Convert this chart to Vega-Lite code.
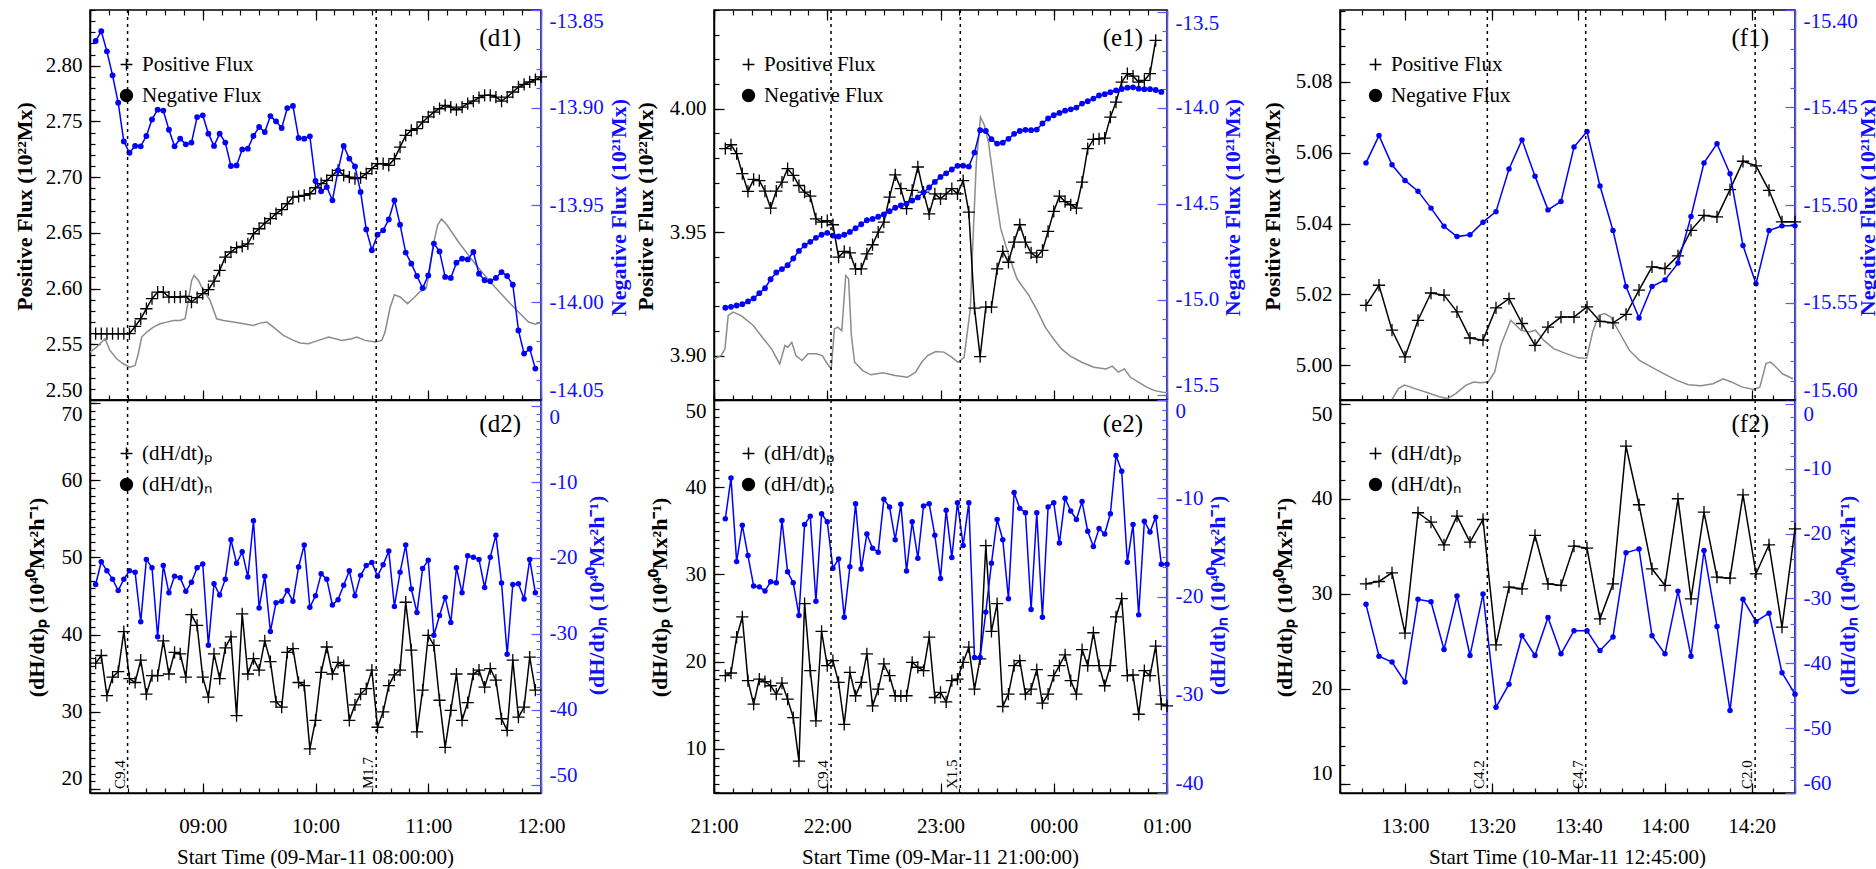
{
"$schema": "https://vega.github.io/schema/vega-lite/v6.json",
"padding": {"left": 12, "top": 8, "right": 0, "bottom": 0},
"background": "white",
"columns": 3,
"spacing": {"row": 0, "column": 173},
"bounds": "flush",
"align": "each",
"resolve": {"scale": {"shape": "independent"}, "legend": {"shape": "independent"}},
"config": {
  "locale": {"number": {"decimal": ".", "thousands": ",", "grouping": [3], "currency": ["$", ""], "minus": "-"}},
  "view": {"stroke": "black", "strokeWidth": 1.5},
  "font": "Liberation Serif",
  "axis": {"labelFont": "Liberation Serif", "titleFont": "Liberation Serif", "labelFontSize": 21, "titleFontSize": 22, "labelColor": "black", "titleColor": "black", "tickColor": "black", "domainColor": "black", "domainWidth": 1.5, "tickWidth": 1.2, "grid": false, "labelOverlap": false},
  "legend": {"labelFont": "Liberation Serif"},
  "title": {"font": "Liberation Serif"}
},
"datasets": {
"d1p": [{"t":3,"v":2.5595},{"t":6,"v":2.5595},{"t":9,"v":2.5595},{"t":12,"v":2.5595},{"t":15,"v":2.5595},{"t":18,"v":2.5595},{"t":21,"v":2.5595},{"t":24,"v":2.566},{"t":27,"v":2.5729},{"t":30,"v":2.5819},{"t":33,"v":2.5909},{"t":36,"v":2.5969},{"t":39,"v":2.5969},{"t":42,"v":2.5924},{"t":45,"v":2.5924},{"t":48,"v":2.5924},{"t":51,"v":2.593},{"t":54,"v":2.5879},{"t":57,"v":2.5918},{"t":60,"v":2.5954},{"t":63,"v":2.599},{"t":66,"v":2.6067},{"t":69,"v":2.6163},{"t":72,"v":2.6283},{"t":75,"v":2.6328},{"t":78,"v":2.6367},{"t":81,"v":2.6379},{"t":84,"v":2.6402},{"t":87,"v":2.6492},{"t":90,"v":2.6537},{"t":93,"v":2.6588},{"t":96,"v":2.6627},{"t":99,"v":2.6672},{"t":102,"v":2.6708},{"t":105,"v":2.6761},{"t":108,"v":2.6821},{"t":111,"v":2.6827},{"t":114,"v":2.6836},{"t":117,"v":2.6851},{"t":120,"v":2.6905},{"t":123,"v":2.6941},{"t":126,"v":2.6971},{"t":129,"v":2.7016},{"t":132,"v":2.7061},{"t":135,"v":2.7016},{"t":138,"v":2.7001},{"t":141,"v":2.6986},{"t":144,"v":2.6995},{"t":147,"v":2.7031},{"t":150,"v":2.7076},{"t":153,"v":2.7121},{"t":156,"v":2.7121},{"t":159,"v":2.7106},{"t":162,"v":2.7165},{"t":165,"v":2.727},{"t":168,"v":2.7375},{"t":171,"v":2.742},{"t":174,"v":2.7435},{"t":177,"v":2.7495},{"t":180,"v":2.754},{"t":183,"v":2.7584},{"t":186,"v":2.7614},{"t":189,"v":2.7644},{"t":192,"v":2.7629},{"t":195,"v":2.7605},{"t":198,"v":2.7629},{"t":201,"v":2.7659},{"t":204,"v":2.7683},{"t":207,"v":2.7713},{"t":210,"v":2.7734},{"t":213,"v":2.7734},{"t":216,"v":2.7719},{"t":219,"v":2.7683},{"t":222,"v":2.7719},{"t":225,"v":2.7764},{"t":228,"v":2.7809},{"t":231,"v":2.7833},{"t":234,"v":2.7854},{"t":237,"v":2.7875},{"t":240,"v":2.7899}],
"d1n": [{"t":3,"v":-13.8659},{"t":6,"v":-13.8609},{"t":9,"v":-13.8712},{"t":12,"v":-13.8835},{"t":15,"v":-13.8975},{"t":18,"v":-13.9174},{"t":21,"v":-13.9232},{"t":24,"v":-13.9197},{"t":27,"v":-13.9199},{"t":30,"v":-13.9146},{"t":33,"v":-13.9061},{"t":36,"v":-13.9011},{"t":39,"v":-13.9016},{"t":42,"v":-13.9114},{"t":45,"v":-13.9199},{"t":48,"v":-13.916},{"t":51,"v":-13.9189},{"t":54,"v":-13.918},{"t":57,"v":-13.9049},{"t":60,"v":-13.904},{"t":63,"v":-13.9134},{"t":66,"v":-13.9197},{"t":69,"v":-13.9134},{"t":72,"v":-13.918},{"t":75,"v":-13.93},{"t":78,"v":-13.9297},{"t":81,"v":-13.9215},{"t":84,"v":-13.9211},{"t":87,"v":-13.9146},{"t":90,"v":-13.91},{"t":93,"v":-13.9126},{"t":96,"v":-13.9044},{"t":99,"v":-13.9071},{"t":102,"v":-13.9105},{"t":105,"v":-13.9003},{"t":108,"v":-13.8992},{"t":111,"v":-13.9156},{"t":114,"v":-13.916},{"t":117,"v":-13.9148},{"t":120,"v":-13.9377},{"t":123,"v":-13.943},{"t":126,"v":-13.9408},{"t":129,"v":-13.9476},{"t":132,"v":-13.9322},{"t":135,"v":-13.9197},{"t":138,"v":-13.9262},{"t":141,"v":-13.9302},{"t":144,"v":-13.9433},{"t":147,"v":-13.9625},{"t":150,"v":-13.9732},{"t":153,"v":-13.9652},{"t":156,"v":-13.963},{"t":159,"v":-13.9574},{"t":162,"v":-13.9476},{"t":165,"v":-13.9601},{"t":168,"v":-13.9744},{"t":171,"v":-13.9801},{"t":174,"v":-13.9864},{"t":177,"v":-13.9926},{"t":180,"v":-13.9861},{"t":183,"v":-13.9698},{"t":186,"v":-13.9738},{"t":189,"v":-13.9869},{"t":192,"v":-13.9874},{"t":195,"v":-13.9796},{"t":198,"v":-13.9775},{"t":201,"v":-13.9779},{"t":204,"v":-13.9741},{"t":207,"v":-13.9852},{"t":210,"v":-13.9886},{"t":213,"v":-13.9891},{"t":216,"v":-13.9874},{"t":219,"v":-13.9844},{"t":222,"v":-13.9864},{"t":225,"v":-13.9909},{"t":228,"v":-14.0143},{"t":231,"v":-14.0262},{"t":234,"v":-14.0237},{"t":237,"v":-14.0339}],
"d1g": [{"t":0,"v":2.543},{"t":3.5,"v":2.5475},{"t":8,"v":2.555},{"t":10.6,"v":2.5445},{"t":14.2,"v":2.537},{"t":17.7,"v":2.5325},{"t":21.3,"v":2.5295},{"t":24,"v":2.531},{"t":25.7,"v":2.5415},{"t":27.5,"v":2.5565},{"t":30.2,"v":2.561},{"t":33.7,"v":2.5654},{"t":37.3,"v":2.5684},{"t":40.8,"v":2.5699},{"t":44.4,"v":2.5714},{"t":47.9,"v":2.5714},{"t":50.6,"v":2.5729},{"t":52.3,"v":2.5894},{"t":54.1,"v":2.6073},{"t":55.4,"v":2.6118},{"t":57.7,"v":2.6073},{"t":60.3,"v":2.5984},{"t":63.9,"v":2.5894},{"t":67.4,"v":2.5729},{"t":71,"v":2.5714},{"t":76.3,"v":2.5699},{"t":81.7,"v":2.5684},{"t":87,"v":2.5669},{"t":90.5,"v":2.569},{"t":94.1,"v":2.5699},{"t":97.6,"v":2.5654},{"t":102.9,"v":2.558},{"t":108.3,"v":2.5535},{"t":111.8,"v":2.5511},{"t":116.2,"v":2.5505},{"t":121.6,"v":2.5535},{"t":127,"v":2.5565},{"t":134,"v":2.5535},{"t":139.3,"v":2.555},{"t":142,"v":2.5565},{"t":146.4,"v":2.5535},{"t":151.8,"v":2.552},{"t":155.3,"v":2.5535},{"t":157,"v":2.561},{"t":159.7,"v":2.583},{"t":162,"v":2.5945},{"t":165,"v":2.5925},{"t":169,"v":2.5865},{"t":172.5,"v":2.592},{"t":175.5,"v":2.597},{"t":178.8,"v":2.6},{"t":180.5,"v":2.613},{"t":182.5,"v":2.638},{"t":185,"v":2.657},{"t":187,"v":2.6625},{"t":190,"v":2.657},{"t":196,"v":2.642},{"t":205,"v":2.622},{"t":214,"v":2.604},{"t":222.8,"v":2.588},{"t":228,"v":2.579},{"t":233.4,"v":2.57},{"t":237,"v":2.568},{"t":240,"v":2.5695}],
"d2p": [{"t":3,"v":36.3},{"t":6,"v":37.3},{"t":9,"v":32.1},{"t":12,"v":34.5},{"t":15,"v":35.2},{"t":18,"v":40.4},{"t":21,"v":34.3},{"t":24,"v":33.8},{"t":27,"v":36.7},{"t":30,"v":32.3},{"t":33,"v":34.7},{"t":36,"v":34.7},{"t":39,"v":39.2},{"t":42,"v":34.9},{"t":45,"v":37.7},{"t":48,"v":37.5},{"t":51,"v":34.5},{"t":54,"v":42.6},{"t":57,"v":41.2},{"t":60,"v":34.5},{"t":63,"v":31.9},{"t":66,"v":37.5},{"t":69,"v":34.3},{"t":72,"v":38.3},{"t":75,"v":39.7},{"t":78,"v":29.5},{"t":81,"v":42.7},{"t":84,"v":34.9},{"t":87,"v":36.9},{"t":90,"v":35.4},{"t":93,"v":39.2},{"t":96,"v":36.5},{"t":99,"v":31.3},{"t":102,"v":30.6},{"t":105,"v":37.7},{"t":108,"v":38.2},{"t":111,"v":33.8},{"t":114,"v":33.4},{"t":117,"v":25.2},{"t":120,"v":28.9},{"t":123,"v":35.1},{"t":126,"v":38.4},{"t":129,"v":34.9},{"t":132,"v":36.4},{"t":135,"v":36.0},{"t":138,"v":28.9},{"t":141,"v":30.9},{"t":144,"v":32.3},{"t":147,"v":33.0},{"t":150,"v":35.4},{"t":153,"v":28.0},{"t":156,"v":30.0},{"t":159,"v":33.4},{"t":162,"v":34.8},{"t":165,"v":35.4},{"t":168,"v":44.2},{"t":171,"v":38.0},{"t":174,"v":27.4},{"t":177,"v":32.8},{"t":180,"v":39.9},{"t":183,"v":38.6},{"t":186,"v":31.5},{"t":189,"v":25.4},{"t":192,"v":30.2},{"t":195,"v":34.9},{"t":198,"v":28.9},{"t":201,"v":31.2},{"t":204,"v":34.9},{"t":207,"v":35.4},{"t":210,"v":33.2},{"t":213,"v":35.6},{"t":216,"v":34.1},{"t":219,"v":29.1},{"t":222,"v":27.6},{"t":225,"v":36.7},{"t":228,"v":29.3},{"t":231,"v":30.6},{"t":234,"v":37.1},{"t":237,"v":32.8}],
"d2n": [{"t":3,"v":-23.5},{"t":6,"v":-20.5},{"t":9,"v":-21.7},{"t":12,"v":-22.8},{"t":15,"v":-24.3},{"t":18,"v":-22.8},{"t":21,"v":-21.7},{"t":24,"v":-21.9},{"t":27,"v":-28.4},{"t":30,"v":-20.2},{"t":33,"v":-21.3},{"t":36,"v":-30.4},{"t":39,"v":-21.0},{"t":42,"v":-24.6},{"t":45,"v":-22.4},{"t":48,"v":-22.6},{"t":51,"v":-24.4},{"t":54,"v":-23.2},{"t":57,"v":-21.3},{"t":60,"v":-20.8},{"t":63,"v":-31.5},{"t":66,"v":-23.4},{"t":69,"v":-24.9},{"t":72,"v":-22.8},{"t":75,"v":-17.6},{"t":78,"v":-20.7},{"t":81,"v":-19.2},{"t":84,"v":-22.5},{"t":87,"v":-15.1},{"t":90,"v":-26.6},{"t":93,"v":-22.4},{"t":96,"v":-29.7},{"t":99,"v":-25.9},{"t":102,"v":-25.7},{"t":105,"v":-24.3},{"t":108,"v":-25.7},{"t":111,"v":-21.2},{"t":114,"v":-18.3},{"t":117,"v":-26.5},{"t":120,"v":-25.0},{"t":123,"v":-22.1},{"t":126,"v":-22.8},{"t":129,"v":-26.2},{"t":132,"v":-25.5},{"t":135,"v":-23.6},{"t":138,"v":-21.7},{"t":141,"v":-25.0},{"t":144,"v":-22.3},{"t":147,"v":-21.0},{"t":150,"v":-20.6},{"t":153,"v":-22.4},{"t":156,"v":-20.9},{"t":159,"v":-19.1},{"t":162,"v":-26.4},{"t":165,"v":-21.9},{"t":168,"v":-18.3},{"t":171,"v":-24.1},{"t":174,"v":-27.2},{"t":177,"v":-21.4},{"t":180,"v":-20.3},{"t":183,"v":-30.2},{"t":186,"v":-27.6},{"t":189,"v":-25.2},{"t":192,"v":-28.5},{"t":195,"v":-21.3},{"t":198,"v":-24.6},{"t":201,"v":-19.7},{"t":204,"v":-19.9},{"t":207,"v":-20.2},{"t":210,"v":-23.9},{"t":213,"v":-19.9},{"t":216,"v":-17.0},{"t":219,"v":-23.3},{"t":222,"v":-32.7},{"t":225,"v":-23.5},{"t":228,"v":-23.4},{"t":231,"v":-25.4},{"t":234,"v":-20.2},{"t":237,"v":-24.6}],
"dfl": [{"t":20,"label":"C9.4"},{"t":152.3,"label":"M1.7"}],
"e1p": [{"t":6,"v":3.9838},{"t":9,"v":3.9854},{"t":12,"v":3.9818},{"t":15,"v":3.9737},{"t":18,"v":3.9665},{"t":21,"v":3.9714},{"t":24,"v":3.9709},{"t":27,"v":3.9666},{"t":30,"v":3.9597},{"t":33,"v":3.9666},{"t":36,"v":3.9703},{"t":39,"v":3.9757},{"t":42,"v":3.973},{"t":45,"v":3.9689},{"t":48,"v":3.9662},{"t":51,"v":3.9646},{"t":54,"v":3.9554},{"t":57,"v":3.9541},{"t":60,"v":3.9547},{"t":63,"v":3.953},{"t":66,"v":3.9399},{"t":69,"v":3.9422},{"t":72,"v":3.9416},{"t":75,"v":3.9351},{"t":78,"v":3.9351},{"t":81,"v":3.9412},{"t":84,"v":3.9449},{"t":87,"v":3.95},{"t":90,"v":3.9541},{"t":93,"v":3.9642},{"t":96,"v":3.9732},{"t":99,"v":3.9676},{"t":102,"v":3.9595},{"t":105,"v":3.9669},{"t":108,"v":3.9764},{"t":111,"v":3.9662},{"t":114,"v":3.9574},{"t":117,"v":3.9655},{"t":120,"v":3.9635},{"t":123,"v":3.9655},{"t":126,"v":3.9676},{"t":129,"v":3.9655},{"t":132,"v":3.9709},{"t":135,"v":3.9581},{"t":138,"v":3.9192},{"t":141,"v":3.8996},{"t":144,"v":3.9196},{"t":147,"v":3.9196},{"t":150,"v":3.9351},{"t":153,"v":3.9422},{"t":156,"v":3.9378},{"t":159,"v":3.946},{"t":162,"v":3.953},{"t":165,"v":3.946},{"t":168,"v":3.9416},{"t":171,"v":3.9399},{"t":174,"v":3.9426},{"t":177,"v":3.9503},{"t":180,"v":3.9584},{"t":183,"v":3.9646},{"t":186,"v":3.9624},{"t":189,"v":3.9611},{"t":192,"v":3.9597},{"t":195,"v":3.9703},{"t":198,"v":3.9838},{"t":201,"v":3.9876},{"t":204,"v":3.9878},{"t":207,"v":3.9881},{"t":210,"v":3.9966},{"t":213,"v":4.0027},{"t":216,"v":4.0108},{"t":219,"v":4.0142},{"t":222,"v":4.0132},{"t":225,"v":4.0108},{"t":228,"v":4.0115},{"t":231,"v":4.0142},{"t":234,"v":4.0277}],
"e1n": [{"t":6,"v":-15.043},{"t":9,"v":-15.038},{"t":12,"v":-15.031},{"t":15,"v":-15.024},{"t":18,"v":-15.01},{"t":21,"v":-14.994},{"t":24,"v":-14.967},{"t":27,"v":-14.941},{"t":30,"v":-14.894},{"t":33,"v":-14.859},{"t":36,"v":-14.841},{"t":39,"v":-14.821},{"t":42,"v":-14.786},{"t":45,"v":-14.746},{"t":48,"v":-14.718},{"t":51,"v":-14.699},{"t":54,"v":-14.678},{"t":57,"v":-14.662},{"t":60,"v":-14.652},{"t":63,"v":-14.666},{"t":66,"v":-14.671},{"t":69,"v":-14.662},{"t":72,"v":-14.647},{"t":75,"v":-14.628},{"t":78,"v":-14.607},{"t":81,"v":-14.586},{"t":84,"v":-14.579},{"t":87,"v":-14.568},{"t":90,"v":-14.556},{"t":93,"v":-14.539},{"t":96,"v":-14.521},{"t":99,"v":-14.509},{"t":102,"v":-14.499},{"t":105,"v":-14.483},{"t":108,"v":-14.467},{"t":111,"v":-14.441},{"t":114,"v":-14.415},{"t":117,"v":-14.386},{"t":120,"v":-14.36},{"t":123,"v":-14.341},{"t":126,"v":-14.321},{"t":129,"v":-14.302},{"t":132,"v":-14.301},{"t":135,"v":-14.306},{"t":138,"v":-14.233},{"t":141,"v":-14.116},{"t":144,"v":-14.12},{"t":147,"v":-14.163},{"t":150,"v":-14.186},{"t":153,"v":-14.181},{"t":156,"v":-14.161},{"t":159,"v":-14.135},{"t":162,"v":-14.12},{"t":165,"v":-14.114},{"t":168,"v":-14.116},{"t":171,"v":-14.113},{"t":174,"v":-14.081},{"t":177,"v":-14.055},{"t":180,"v":-14.038},{"t":183,"v":-14.026},{"t":186,"v":-14.014},{"t":189,"v":-14.007},{"t":192,"v":-13.998},{"t":195,"v":-13.977},{"t":198,"v":-13.965},{"t":201,"v":-13.951},{"t":204,"v":-13.935},{"t":207,"v":-13.928},{"t":210,"v":-13.918},{"t":213,"v":-13.908},{"t":216,"v":-13.901},{"t":219,"v":-13.894},{"t":222,"v":-13.892},{"t":225,"v":-13.899},{"t":228,"v":-13.902},{"t":231,"v":-13.902},{"t":234,"v":-13.906},{"t":237,"v":-13.916}],
"e1g": [{"t":0,"v":3.8987},{"t":3.7,"v":3.9},{"t":5.8,"v":3.9027},{"t":7.5,"v":3.9162},{"t":10.1,"v":3.9176},{"t":14.4,"v":3.9162},{"t":20.8,"v":3.9122},{"t":26.2,"v":3.9068},{"t":30.5,"v":3.9027},{"t":34.8,"v":3.8966},{"t":37.6,"v":3.9041},{"t":39.1,"v":3.9034},{"t":41.2,"v":3.9054},{"t":43.4,"v":3.9},{"t":46.6,"v":3.898},{"t":49.8,"v":3.9007},{"t":54.1,"v":3.9007},{"t":57.4,"v":3.9},{"t":59.5,"v":3.8973},{"t":62.1,"v":3.8946},{"t":63.8,"v":3.9108},{"t":65.5,"v":3.9115},{"t":67.7,"v":3.9101},{"t":69.8,"v":3.9324},{"t":71.3,"v":3.9311},{"t":72.8,"v":3.9081},{"t":74.5,"v":3.8973},{"t":78.8,"v":3.8939},{"t":83.1,"v":3.8922},{"t":89.6,"v":3.893},{"t":96,"v":3.8919},{"t":102.5,"v":3.8912},{"t":106.8,"v":3.8933},{"t":110,"v":3.8973},{"t":113.2,"v":3.9},{"t":117.5,"v":3.9016},{"t":121.8,"v":3.9014},{"t":126.1,"v":3.8993},{"t":129.3,"v":3.8973},{"t":132.5,"v":3.8993},{"t":135.8,"v":3.9189},{"t":137.3,"v":3.9487},{"t":139,"v":3.9784},{"t":141.2,"v":3.9966},{"t":143.3,"v":3.9932},{"t":145.4,"v":3.9865},{"t":148.7,"v":3.9676},{"t":151.9,"v":3.9514},{"t":156.2,"v":3.9405},{"t":160.5,"v":3.9311},{"t":166.9,"v":3.9243},{"t":171.2,"v":3.9183},{"t":175.5,"v":3.9115},{"t":179.8,"v":3.9068},{"t":184.1,"v":3.9027},{"t":188.4,"v":3.9},{"t":194.8,"v":3.8973},{"t":201.3,"v":3.8953},{"t":207.7,"v":3.8946},{"t":211,"v":3.8957},{"t":214.2,"v":3.8933},{"t":217.4,"v":3.8946},{"t":220.6,"v":3.8912},{"t":224.9,"v":3.8892},{"t":229.2,"v":3.8872},{"t":233.5,"v":3.8858},{"t":237.8,"v":3.8851},{"t":240,"v":3.885}],
"e2p": [{"t":6,"v":18.38},{"t":9,"v":18.69},{"t":12,"v":22.81},{"t":15,"v":25.12},{"t":18,"v":17.81},{"t":21,"v":15.12},{"t":24,"v":18.0},{"t":27,"v":17.69},{"t":30,"v":17.23},{"t":33,"v":16.27},{"t":36,"v":17.54},{"t":39,"v":15.69},{"t":42,"v":13.58},{"t":45,"v":8.58},{"t":48,"v":26.65},{"t":51,"v":18.96},{"t":54,"v":13.19},{"t":57,"v":23.46},{"t":60,"v":19.54},{"t":63,"v":20.12},{"t":66,"v":17.62},{"t":69,"v":12.81},{"t":72,"v":18.77},{"t":75,"v":16.08},{"t":78,"v":17.62},{"t":81,"v":20.88},{"t":84,"v":14.92},{"t":87,"v":16.85},{"t":90,"v":19.73},{"t":93,"v":18.38},{"t":96,"v":16.08},{"t":99,"v":16.08},{"t":102,"v":16.08},{"t":105,"v":19.92},{"t":108,"v":19.35},{"t":111,"v":18.96},{"t":114,"v":22.81},{"t":117,"v":15.88},{"t":120,"v":16.46},{"t":123,"v":15.38},{"t":126,"v":17.81},{"t":129,"v":18.0},{"t":132,"v":19.92},{"t":135,"v":21.65},{"t":138,"v":16.85},{"t":141,"v":20.31},{"t":144,"v":33.31},{"t":147,"v":23.46},{"t":150,"v":26.65},{"t":153,"v":14.85},{"t":156,"v":16.27},{"t":159,"v":19.54},{"t":162,"v":20.12},{"t":165,"v":16.27},{"t":168,"v":16.85},{"t":171,"v":19.08},{"t":174,"v":15.23},{"t":177,"v":16.27},{"t":180,"v":18.38},{"t":183,"v":19.54},{"t":186,"v":20.77},{"t":189,"v":17.81},{"t":192,"v":16.27},{"t":195,"v":21.38},{"t":198,"v":19.54},{"t":201,"v":23.31},{"t":204,"v":19.54},{"t":207,"v":17.23},{"t":210,"v":19.54},{"t":213,"v":25.12},{"t":216,"v":27.23},{"t":219,"v":18.38},{"t":222,"v":18.46},{"t":225,"v":13.96},{"t":228,"v":18.96},{"t":231,"v":18.38},{"t":234,"v":21.77},{"t":237,"v":15.12},{"t":240,"v":14.92}],
"e2n": [{"t":6,"v":-12.09},{"t":9,"v":-7.94},{"t":12,"v":-16.45},{"t":15,"v":-12.74},{"t":18,"v":-15.83},{"t":21,"v":-18.92},{"t":24,"v":-19.02},{"t":27,"v":-19.43},{"t":30,"v":-18.5},{"t":33,"v":-18.61},{"t":36,"v":-12.26},{"t":39,"v":-17.48},{"t":42,"v":-18.61},{"t":45,"v":-21.93},{"t":48,"v":-12.67},{"t":51,"v":-11.82},{"t":54,"v":-20.49},{"t":57,"v":-11.58},{"t":60,"v":-12.4},{"t":63,"v":-17.13},{"t":66,"v":-16.17},{"t":69,"v":-22.11},{"t":72,"v":-16.96},{"t":75,"v":-10.55},{"t":78,"v":-17.2},{"t":81,"v":-13.64},{"t":84,"v":-15.08},{"t":87,"v":-15.49},{"t":90,"v":-10.1},{"t":93,"v":-10.89},{"t":96,"v":-14.22},{"t":99,"v":-10.62},{"t":102,"v":-17.41},{"t":105,"v":-12.4},{"t":108,"v":-16.1},{"t":111,"v":-10.79},{"t":114,"v":-10.55},{"t":117,"v":-13.77},{"t":120,"v":-18.16},{"t":123,"v":-11.23},{"t":126,"v":-16.04},{"t":129,"v":-10.45},{"t":132,"v":-14.8},{"t":135,"v":-10.45},{"t":138,"v":-26.22},{"t":141,"v":-26.22},{"t":144,"v":-21.59},{"t":147,"v":-16.62},{"t":150,"v":-12.16},{"t":153,"v":-14.22},{"t":156,"v":-20.22},{"t":159,"v":-9.42},{"t":162,"v":-11.03},{"t":165,"v":-11.47},{"t":168,"v":-21.32},{"t":171,"v":-11.47},{"t":174,"v":-22.11},{"t":177,"v":-10.89},{"t":180,"v":-10.45},{"t":183,"v":-14.56},{"t":186,"v":-10.0},{"t":189,"v":-11.3},{"t":192,"v":-12.16},{"t":195,"v":-10.34},{"t":198,"v":-13.36},{"t":201,"v":-14.9},{"t":204,"v":-13.09},{"t":207,"v":-13.64},{"t":210,"v":-11.58},{"t":213,"v":-5.64},{"t":216,"v":-7.26},{"t":219,"v":-16.52},{"t":222,"v":-12.67},{"t":225,"v":-21.87},{"t":228,"v":-12.33},{"t":231,"v":-13.43},{"t":234,"v":-11.92},{"t":237,"v":-16.72},{"t":240,"v":-16.72}],
"efl": [{"t":62,"label":"C9.4"},{"t":130.5,"label":"X1.5"}],
"f1p": [{"t":6,"v":5.0169},{"t":9,"v":5.0226},{"t":12,"v":5.0099},{"t":15,"v":5.0024},{"t":18,"v":5.0127},{"t":21,"v":5.0204},{"t":24,"v":5.0198},{"t":27,"v":5.0151},{"t":30,"v":5.0077},{"t":33,"v":5.0071},{"t":36,"v":5.0162},{"t":39,"v":5.0188},{"t":42,"v":5.0118},{"t":45,"v":5.0056},{"t":48,"v":5.0108},{"t":51,"v":5.0136},{"t":54,"v":5.0136},{"t":57,"v":5.0165},{"t":60,"v":5.0124},{"t":63,"v":5.012},{"t":66,"v":5.0144},{"t":69,"v":5.0212},{"t":72,"v":5.0278},{"t":75,"v":5.0273},{"t":78,"v":5.0309},{"t":81,"v":5.0381},{"t":84,"v":5.0423},{"t":87,"v":5.0419},{"t":90,"v":5.0496},{"t":93,"v":5.0576},{"t":96,"v":5.0563},{"t":99,"v":5.0494},{"t":102,"v":5.0405},{"t":105,"v":5.0405}],
"f1n": [{"t":6,"v":-15.4784},{"t":9,"v":-15.4644},{"t":12,"v":-15.4794},{"t":15,"v":-15.4874},{"t":18,"v":-15.4929},{"t":21,"v":-15.5016},{"t":24,"v":-15.5109},{"t":27,"v":-15.5162},{"t":30,"v":-15.5153},{"t":33,"v":-15.5088},{"t":36,"v":-15.5034},{"t":39,"v":-15.4815},{"t":42,"v":-15.4666},{"t":45,"v":-15.4852},{"t":48,"v":-15.5025},{"t":51,"v":-15.4982},{"t":54,"v":-15.4703},{"t":57,"v":-15.4623},{"t":60,"v":-15.4903},{"t":63,"v":-15.5131},{"t":66,"v":-15.5418},{"t":69,"v":-15.5579},{"t":72,"v":-15.5418},{"t":75,"v":-15.5384},{"t":78,"v":-15.5298},{"t":81,"v":-15.5059},{"t":84,"v":-15.4784},{"t":87,"v":-15.4686},{"t":90,"v":-15.484},{"t":93,"v":-15.5208},{"t":96,"v":-15.5404},{"t":99,"v":-15.5131},{"t":102,"v":-15.5107},{"t":105,"v":-15.5107}],
"f1g": [{"t":10.5,"v":4.985},{"t":11.6,"v":4.9896},{"t":13.5,"v":4.9934},{"t":14.9,"v":4.9944},{"t":17.3,"v":4.9934},{"t":20.1,"v":4.9923},{"t":22.9,"v":4.9911},{"t":24.8,"v":4.9906},{"t":26.7,"v":4.992},{"t":29.1,"v":4.9944},{"t":30.9,"v":4.9953},{"t":32.4,"v":4.9951},{"t":34.2,"v":4.9953},{"t":35.7,"v":4.9981},{"t":37.1,"v":5.0056},{"t":39.4,"v":5.0127},{"t":41.8,"v":5.0099},{"t":43.7,"v":5.0094},{"t":45.1,"v":5.0099},{"t":47,"v":5.0071},{"t":49.3,"v":5.0047},{"t":52.2,"v":5.0033},{"t":55,"v":5.0021},{"t":56.9,"v":5.0019},{"t":58.3,"v":5.0094},{"t":59.7,"v":5.0141},{"t":61.1,"v":5.0146},{"t":62.5,"v":5.0136},{"t":64.4,"v":5.0094},{"t":66.8,"v":5.0042},{"t":69.1,"v":5.0014},{"t":71.9,"v":4.9995},{"t":74.8,"v":4.9976},{"t":77.6,"v":4.9958},{"t":80.4,"v":4.9945},{"t":83.3,"v":4.9942},{"t":86.1,"v":4.9948},{"t":88.4,"v":4.9962},{"t":90.3,"v":4.9953},{"t":92.7,"v":4.9939},{"t":95.5,"v":4.9932},{"t":96.9,"v":4.9939},{"t":98.3,"v":5.0005},{"t":99.3,"v":5.0009},{"t":100.2,"v":5.0},{"t":102.1,"v":4.9976},{"t":104.5,"v":4.9962}],
"f2p": [{"t":6,"v":31.05},{"t":9,"v":31.3},{"t":12,"v":32.21},{"t":15,"v":25.86},{"t":18,"v":38.53},{"t":21,"v":37.54},{"t":24,"v":35.16},{"t":27,"v":38.18},{"t":30,"v":35.44},{"t":33,"v":37.82},{"t":36,"v":24.63},{"t":39,"v":30.7},{"t":42,"v":30.53},{"t":45,"v":36.14},{"t":48,"v":31.05},{"t":51,"v":30.88},{"t":54,"v":35.02},{"t":57,"v":34.81},{"t":60,"v":27.37},{"t":63,"v":31.05},{"t":66,"v":45.54},{"t":69,"v":39.37},{"t":72,"v":32.63},{"t":75,"v":30.88},{"t":78,"v":40.0},{"t":81,"v":29.47},{"t":84,"v":38.6},{"t":87,"v":31.75},{"t":90,"v":31.65},{"t":93,"v":40.42},{"t":96,"v":32.11},{"t":99,"v":35.16},{"t":102,"v":26.49},{"t":105,"v":36.84}],
"f2n": [{"t":6,"v":-30.92},{"t":9,"v":-38.91},{"t":12,"v":-39.82},{"t":15,"v":-42.88},{"t":18,"v":-30.15},{"t":21,"v":-30.51},{"t":24,"v":-37.89},{"t":27,"v":-29.64},{"t":30,"v":-38.8},{"t":33,"v":-29.34},{"t":36,"v":-46.79},{"t":39,"v":-43.23},{"t":42,"v":-35.75},{"t":45,"v":-38.8},{"t":48,"v":-32.95},{"t":51,"v":-38.55},{"t":54,"v":-34.99},{"t":57,"v":-34.99},{"t":60,"v":-38.04},{"t":63,"v":-35.95},{"t":66,"v":-22.98},{"t":69,"v":-22.37},{"t":72,"v":-35.75},{"t":75,"v":-38.55},{"t":78,"v":-28.88},{"t":81,"v":-38.91},{"t":84,"v":-22.62},{"t":87,"v":-34.33},{"t":90,"v":-47.3},{"t":93,"v":-30.15},{"t":96,"v":-33.56},{"t":99,"v":-32.29},{"t":102,"v":-41.45},{"t":105,"v":-44.76}],
"ffl": [{"t":34,"label":"C4.2"},{"t":56.7,"label":"C4.7"},{"t":95.8,"label":"C2.0"}]
},
"concat": [
 {"width": 451, "height": 390,
  "title": {"text": "(d1)", "orient": "top", "anchor": "end", "frame": "group", "offset": -42, "dx": -20, "fontSize": 25, "fontWeight": "normal", "color": "black"},
  "resolve": {"scale": {"x": "independent", "y": "independent"}, "axis": {"x": "independent", "y": "independent"}},
  "layer": [
   {"data": {"name": "d1g"}, "mark": {"type": "line", "color": "#8c8c8c", "strokeWidth": 1.5, "clip": true},
    "encoding": {"x": {"field": "t", "type": "quantitative", "scale": {"domain": [0, 240], "nice": false, "zero": false}, "axis": {"orient": "top", "values": [0, 60, 120, 180, 240], "labels": false, "domain": false, "tickSize": -10, "title": null}},
                 "y": {"field": "v", "type": "quantitative", "scale": {"domain": [2.5, 2.85], "nice": false, "zero": false}, "axis": {"orient": "left", "tickCount": 35, "labels": false, "domain": false, "tickSize": -5, "title": null}}}},
   {"data": {"name": "d1p"}, "mark": {"type": "line", "color": "black", "strokeWidth": 1.5},
    "encoding": {"x": {"field": "t", "type": "quantitative", "scale": {"domain": [0, 240], "nice": false, "zero": false}, "axis": {"orient": "bottom", "values": [0, 60, 120, 180, 240], "labels": false, "tickSize": -10, "title": null}},
                 "y": {"field": "v", "type": "quantitative", "scale": {"domain": [2.5, 2.85], "nice": false, "zero": false}, "axis": {"orient": "left", "values": [2.5, 2.55, 2.6, 2.65, 2.7, 2.75, 2.8], "format": ".2f", "tickSize": -10, "labelPadding": 18, "labelFlush": 12, "title": "Positive Flux (10²²Mx)", "titleX": -66, "titleY": 196, "titleAngle": 270, "titleFontWeight": "bold", "titleBaseline": "middle", "titleAlign": "center"}}}},
   {"data": {"name": "d1p"}, "mark": {"type": "point", "filled": true, "color": "black", "stroke": "black", "strokeWidth": 1.3, "size": 150, "opacity": 1},
    "encoding": {"x": {"field": "t", "type": "quantitative", "scale": {"domain": [0, 240], "nice": false, "zero": false}, "axis": {"orient": "bottom", "tickCount": 24, "labels": false, "domain": false, "tickSize": -5, "title": null}},
                 "y": {"field": "v", "type": "quantitative", "scale": {"domain": [2.5, 2.85], "nice": false, "zero": false}, "axis": null},
                 "shape": {"datum": "Positive Flux", "type": "nominal", "scale": {"domain": ["Positive Flux", "Negative Flux"], "range": ["M-1,0H1M0,-1V1", "circle"]}, "legend": {"orient": "none", "legendX": 26, "legendY": 44, "title": null, "symbolSize": 140, "symbolStrokeWidth": 1.5, "labelFontSize": 21, "labelColor": "black", "labelOffset": 5, "rowPadding": 9, "padding": 0}}}},
   {"data": {"name": "d1n"}, "mark": {"type": "line", "color": "#0000ff", "strokeWidth": 1.5},
    "encoding": {"x": {"field": "t", "type": "quantitative", "scale": {"domain": [0, 240], "nice": false, "zero": false}, "axis": {"orient": "top", "tickCount": 24, "labels": false, "domain": false, "tickSize": -5, "title": null}},
                 "y": {"field": "v", "type": "quantitative", "scale": {"domain": [-14.05, -13.85], "nice": false, "zero": false}, "axis": {"orient": "right", "values": [-14.05, -14, -13.95, -13.9, -13.85], "format": ".2f", "tickSize": -10, "labelPadding": 18, "labelFlush": 12, "labelColor": "#1010ff", "domainColor": "#5a5aff", "tickColor": "#5a5aff", "title": "Negative Flux (10²¹Mx)", "titleColor": "#1010ff", "titleX": 77, "titleY": 197, "titleAngle": 270, "titleFontWeight": "bold", "titleBaseline": "middle", "titleAlign": "center"}}}},
   {"data": {"name": "d1n"}, "mark": {"type": "point", "filled": true, "shape": "circle", "color": "#0000ff", "size": 34, "opacity": 1},
    "encoding": {"x": {"field": "t", "type": "quantitative", "scale": {"domain": [0, 240], "nice": false, "zero": false}, "axis": null},
                 "y": {"field": "v", "type": "quantitative", "scale": {"domain": [-14.05, -13.85], "nice": false, "zero": false}, "axis": {"orient": "right", "tickCount": 20, "labels": false, "domain": false, "tickSize": -5, "tickColor": "#5a5aff", "title": null}}}},
   {"data": {"name": "dfl"}, "mark": {"type": "rule", "color": "black", "strokeWidth": 1.5, "strokeDash": [3, 4]},
    "encoding": {"x": {"field": "t", "type": "quantitative", "scale": {"domain": [0, 240], "nice": false, "zero": false}, "axis": null}}}
  ]},
 {"width": 453, "height": 390,
  "title": {"text": "(e1)", "orient": "top", "anchor": "end", "frame": "group", "offset": -42, "dx": -24, "fontSize": 25, "fontWeight": "normal", "color": "black"},
  "resolve": {"scale": {"x": "independent", "y": "independent"}, "axis": {"x": "independent", "y": "independent"}},
  "layer": [
   {"data": {"name": "e1g"}, "mark": {"type": "line", "color": "#8c8c8c", "strokeWidth": 1.5, "clip": true},
    "encoding": {"x": {"field": "t", "type": "quantitative", "scale": {"domain": [0, 240], "nice": false, "zero": false}, "axis": {"orient": "top", "values": [0, 60, 120, 180, 240], "labels": false, "domain": false, "tickSize": -10, "title": null}},
                 "y": {"field": "v", "type": "quantitative", "scale": {"domain": [3.882, 4.04], "nice": false, "zero": false}, "axis": {"orient": "left", "tickCount": 16, "labels": false, "domain": false, "tickSize": -5, "title": null}}}},
   {"data": {"name": "e1p"}, "mark": {"type": "line", "color": "black", "strokeWidth": 1.5},
    "encoding": {"x": {"field": "t", "type": "quantitative", "scale": {"domain": [0, 240], "nice": false, "zero": false}, "axis": {"orient": "bottom", "values": [0, 60, 120, 180, 240], "labels": false, "tickSize": -10, "title": null}},
                 "y": {"field": "v", "type": "quantitative", "scale": {"domain": [3.882, 4.04], "nice": false, "zero": false}, "axis": {"orient": "left", "values": [3.9, 3.95, 4.0], "format": ".2f", "tickSize": -10, "labelPadding": 18, "labelFlush": 12, "title": "Positive Flux (10²²Mx)", "titleX": -69, "titleY": 196, "titleAngle": 270, "titleFontWeight": "bold", "titleBaseline": "middle", "titleAlign": "center"}}}},
   {"data": {"name": "e1p"}, "mark": {"type": "point", "filled": true, "color": "black", "stroke": "black", "strokeWidth": 1.3, "size": 150, "opacity": 1},
    "encoding": {"x": {"field": "t", "type": "quantitative", "scale": {"domain": [0, 240], "nice": false, "zero": false}, "axis": {"orient": "bottom", "tickCount": 24, "labels": false, "domain": false, "tickSize": -5, "title": null}},
                 "y": {"field": "v", "type": "quantitative", "scale": {"domain": [3.882, 4.04], "nice": false, "zero": false}, "axis": null},
                 "shape": {"datum": "Positive Flux", "type": "nominal", "scale": {"domain": ["Positive Flux", "Negative Flux"], "range": ["M-1,0H1M0,-1V1", "circle"]}, "legend": {"orient": "none", "legendX": 24, "legendY": 44, "title": null, "symbolSize": 140, "symbolStrokeWidth": 1.5, "labelFontSize": 21, "labelColor": "black", "labelOffset": 5, "rowPadding": 9, "padding": 0}}}},
   {"data": {"name": "e1n"}, "mark": {"type": "line", "color": "#0000ff", "strokeWidth": 1.5},
    "encoding": {"x": {"field": "t", "type": "quantitative", "scale": {"domain": [0, 240], "nice": false, "zero": false}, "axis": {"orient": "top", "tickCount": 24, "labels": false, "domain": false, "tickSize": -5, "title": null}},
                 "y": {"field": "v", "type": "quantitative", "scale": {"domain": [-15.5245, -13.4885], "nice": false, "zero": false}, "axis": {"orient": "right", "values": [-15.5, -15, -14.5, -14, -13.5], "format": ".1f", "tickSize": -10, "labelPadding": 18, "labelFlush": 12, "labelColor": "#1010ff", "domainColor": "#5a5aff", "tickColor": "#5a5aff", "title": "Negative Flux (10²¹Mx)", "titleColor": "#1010ff", "titleX": 65, "titleY": 197, "titleAngle": 270, "titleFontWeight": "bold", "titleBaseline": "middle", "titleAlign": "center"}}}},
   {"data": {"name": "e1n"}, "mark": {"type": "point", "filled": true, "shape": "circle", "color": "#0000ff", "size": 34, "opacity": 1},
    "encoding": {"x": {"field": "t", "type": "quantitative", "scale": {"domain": [0, 240], "nice": false, "zero": false}, "axis": null},
                 "y": {"field": "v", "type": "quantitative", "scale": {"domain": [-15.5245, -13.4885], "nice": false, "zero": false}, "axis": {"orient": "right", "tickCount": 20, "labels": false, "domain": false, "tickSize": -5, "tickColor": "#5a5aff", "title": null}}}},
   {"data": {"name": "efl"}, "mark": {"type": "rule", "color": "black", "strokeWidth": 1.5, "strokeDash": [3, 4]},
    "encoding": {"x": {"field": "t", "type": "quantitative", "scale": {"domain": [0, 240], "nice": false, "zero": false}, "axis": null}}}
  ]},
 {"width": 455, "height": 390,
  "title": {"text": "(f1)", "orient": "top", "anchor": "end", "frame": "group", "offset": -42, "dx": -26, "fontSize": 25, "fontWeight": "normal", "color": "black"},
  "resolve": {"scale": {"x": "independent", "y": "independent"}, "axis": {"x": "independent", "y": "independent"}},
  "layer": [
   {"data": {"name": "f1g"}, "mark": {"type": "line", "color": "#8c8c8c", "strokeWidth": 1.5, "clip": true},
    "encoding": {"x": {"field": "t", "type": "quantitative", "scale": {"domain": [0, 105], "nice": false, "zero": false}, "axis": {"orient": "top", "values": [15, 35, 55, 75, 95], "labels": false, "domain": false, "tickSize": -10, "title": null}},
                 "y": {"field": "v", "type": "quantitative", "scale": {"domain": [4.9902, 5.1003], "nice": false, "zero": false}, "axis": {"orient": "left", "tickCount": 22, "labels": false, "domain": false, "tickSize": -5, "title": null}}}},
   {"data": {"name": "f1p"}, "mark": {"type": "line", "color": "black", "strokeWidth": 1.5},
    "encoding": {"x": {"field": "t", "type": "quantitative", "scale": {"domain": [0, 105], "nice": false, "zero": false}, "axis": {"orient": "bottom", "values": [15, 35, 55, 75, 95], "labels": false, "tickSize": -10, "title": null}},
                 "y": {"field": "v", "type": "quantitative", "scale": {"domain": [4.9902, 5.1003], "nice": false, "zero": false}, "axis": {"orient": "left", "values": [5.0, 5.02, 5.04, 5.06, 5.08], "format": ".2f", "tickSize": -10, "labelPadding": 18, "labelFlush": 12, "title": "Positive Flux (10²²Mx)", "titleX": -68, "titleY": 196, "titleAngle": 270, "titleFontWeight": "bold", "titleBaseline": "middle", "titleAlign": "center"}}}},
   {"data": {"name": "f1p"}, "mark": {"type": "point", "filled": true, "color": "black", "stroke": "black", "strokeWidth": 1.3, "size": 150, "opacity": 1},
    "encoding": {"x": {"field": "t", "type": "quantitative", "scale": {"domain": [0, 105], "nice": false, "zero": false}, "axis": {"orient": "bottom", "tickCount": 21, "labels": false, "domain": false, "tickSize": -5, "title": null}},
                 "y": {"field": "v", "type": "quantitative", "scale": {"domain": [4.9902, 5.1003], "nice": false, "zero": false}, "axis": null},
                 "shape": {"datum": "Positive Flux", "type": "nominal", "scale": {"domain": ["Positive Flux", "Negative Flux"], "range": ["M-1,0H1M0,-1V1", "circle"]}, "legend": {"orient": "none", "legendX": 25, "legendY": 44, "title": null, "symbolSize": 140, "symbolStrokeWidth": 1.5, "labelFontSize": 21, "labelColor": "black", "labelOffset": 5, "rowPadding": 9, "padding": 0}}}},
   {"data": {"name": "f1n"}, "mark": {"type": "line", "color": "#0000ff", "strokeWidth": 1.5},
    "encoding": {"x": {"field": "t", "type": "quantitative", "scale": {"domain": [0, 105], "nice": false, "zero": false}, "axis": {"orient": "top", "tickCount": 21, "labels": false, "domain": false, "tickSize": -5, "title": null}},
                 "y": {"field": "v", "type": "quantitative", "scale": {"domain": [-15.6, -15.4], "nice": false, "zero": false}, "axis": {"orient": "right", "values": [-15.6, -15.55, -15.5, -15.45, -15.4], "format": ".2f", "tickSize": -10, "labelPadding": 18, "labelFlush": 12, "labelColor": "#1010ff", "domainColor": "#5a5aff", "tickColor": "#5a5aff", "title": "Negative Flux (10²¹Mx)", "titleColor": "#1010ff", "titleX": 72, "titleY": 197, "titleAngle": 270, "titleFontWeight": "bold", "titleBaseline": "middle", "titleAlign": "center"}}}},
   {"data": {"name": "f1n"}, "mark": {"type": "point", "filled": true, "shape": "circle", "color": "#0000ff", "size": 30, "opacity": 1},
    "encoding": {"x": {"field": "t", "type": "quantitative", "scale": {"domain": [0, 105], "nice": false, "zero": false}, "axis": null},
                 "y": {"field": "v", "type": "quantitative", "scale": {"domain": [-15.6, -15.4], "nice": false, "zero": false}, "axis": {"orient": "right", "tickCount": 20, "labels": false, "domain": false, "tickSize": -5, "tickColor": "#5a5aff", "title": null}}}},
   {"data": {"name": "ffl"}, "mark": {"type": "rule", "color": "black", "strokeWidth": 1.5, "strokeDash": [3, 4]},
    "encoding": {"x": {"field": "t", "type": "quantitative", "scale": {"domain": [0, 105], "nice": false, "zero": false}, "axis": null}}}
  ]},
 {"width": 451, "height": 393,
  "title": {"text": "(d2)", "orient": "top", "anchor": "end", "frame": "group", "offset": -38, "dx": -20, "fontSize": 25, "fontWeight": "normal", "color": "black"},
  "resolve": {"scale": {"x": "independent", "y": "independent"}, "axis": {"x": "independent", "y": "independent"}},
  "layer": [
   {"data": {"name": "d2p"}, "mark": {"type": "line", "color": "black", "strokeWidth": 1.5},
    "encoding": {"x": {"field": "t", "type": "quantitative", "scale": {"domain": [0, 240], "nice": false, "zero": false}, "axis": {"orient": "bottom", "values": [0, 60, 120, 180, 240], "labelExpr": "['','09:00','10:00','11:00','12:00'][round(datum.value/60)]", "tickSize": -10, "labelPadding": 32, "labelFlush": false, "title": "Start Time (09-Mar-11 08:00:00)", "titleFontWeight": "normal", "titleFontSize": 21, "titleX": 225, "titleY": 64, "titleBaseline": "middle", "titleAlign": "center"}},
                 "y": {"field": "v", "type": "quantitative", "scale": {"domain": [19.48, 70.41], "nice": false, "zero": false}, "axis": {"orient": "left", "values": [20, 30, 40, 50, 60, 70], "format": "d", "tickSize": -10, "labelPadding": 18, "labelFlush": 12, "title": "(dH/dt)ₚ (10⁴⁰Mx²h⁻¹)", "titleX": -54, "titleY": 197, "titleAngle": 270, "titleFontWeight": "bold", "titleBaseline": "middle", "titleAlign": "center"}}}},
   {"data": {"name": "d2p"}, "mark": {"type": "point", "filled": true, "color": "black", "stroke": "black", "strokeWidth": 1.3, "size": 150, "opacity": 1},
    "encoding": {"x": {"field": "t", "type": "quantitative", "scale": {"domain": [0, 240], "nice": false, "zero": false}, "axis": {"orient": "bottom", "tickCount": 24, "labels": false, "domain": false, "tickSize": -5, "title": null}},
                 "y": {"field": "v", "type": "quantitative", "scale": {"domain": [19.48, 70.41], "nice": false, "zero": false}, "axis": {"orient": "left", "tickCount": 50, "labels": false, "domain": false, "tickSize": -5, "title": null}},
                 "shape": {"datum": "(dH/dt)ₚ", "type": "nominal", "scale": {"domain": ["(dH/dt)ₚ", "(dH/dt)ₙ"], "range": ["M-1,0H1M0,-1V1", "circle"]}, "legend": {"orient": "none", "legendX": 26, "legendY": 43, "title": null, "symbolSize": 140, "symbolStrokeWidth": 1.5, "labelFontSize": 21, "labelColor": "black", "labelOffset": 5, "rowPadding": 9, "padding": 0}}}},
   {"data": {"name": "d2n"}, "mark": {"type": "line", "color": "#0000ff", "strokeWidth": 1.5},
    "encoding": {"x": {"field": "t", "type": "quantitative", "scale": {"domain": [0, 240], "nice": false, "zero": false}, "axis": null},
                 "y": {"field": "v", "type": "quantitative", "scale": {"domain": [-50.99, 0.82], "nice": false, "zero": false}, "axis": {"orient": "right", "values": [-50, -40, -30, -20, -10, 0], "format": "d", "tickSize": -10, "labelPadding": 18, "labelFlush": 12, "labelColor": "#1010ff", "domainColor": "#5a5aff", "tickColor": "#5a5aff", "title": "(dH/dt)ₙ (10⁴⁰Mx²h⁻¹)", "titleColor": "#1010ff", "titleX": 55, "titleY": 195, "titleAngle": 270, "titleFontWeight": "bold", "titleBaseline": "middle", "titleAlign": "center"}}}},
   {"data": {"name": "d2n"}, "mark": {"type": "point", "filled": true, "shape": "circle", "color": "#0000ff", "size": 30, "opacity": 1},
    "encoding": {"x": {"field": "t", "type": "quantitative", "scale": {"domain": [0, 240], "nice": false, "zero": false}, "axis": null},
                 "y": {"field": "v", "type": "quantitative", "scale": {"domain": [-50.99, 0.82], "nice": false, "zero": false}, "axis": {"orient": "right", "tickCount": 50, "labels": false, "domain": false, "tickSize": -5, "tickColor": "#5a5aff", "title": null}}}},
   {"data": {"name": "dfl"}, "mark": {"type": "rule", "color": "black", "strokeWidth": 1.5, "strokeDash": [3, 4]},
    "encoding": {"x": {"field": "t", "type": "quantitative", "scale": {"domain": [0, 240], "nice": false, "zero": false}, "axis": null}}},
   {"data": {"name": "dfl"}, "mark": {"type": "text", "angle": 270, "align": "left", "baseline": "bottom", "fontSize": 15, "color": "black", "dx": 4},
    "encoding": {"x": {"field": "t", "type": "quantitative", "scale": {"domain": [0, 240], "nice": false, "zero": false}, "axis": null},
                 "y": {"datum": 19.48, "type": "quantitative", "scale": {"domain": [19.48, 70.41], "nice": false, "zero": false}, "axis": null},
                 "text": {"field": "label"}}}
  ]},
 {"width": 453, "height": 393,
  "title": {"text": "(e2)", "orient": "top", "anchor": "end", "frame": "group", "offset": -38, "dx": -24, "fontSize": 25, "fontWeight": "normal", "color": "black"},
  "resolve": {"scale": {"x": "independent", "y": "independent"}, "axis": {"x": "independent", "y": "independent"}},
  "layer": [
   {"data": {"name": "e2p"}, "mark": {"type": "line", "color": "black", "strokeWidth": 1.5},
    "encoding": {"x": {"field": "t", "type": "quantitative", "scale": {"domain": [0, 240], "nice": false, "zero": false}, "axis": {"orient": "bottom", "values": [0, 60, 120, 180, 240], "labelExpr": "['21:00','22:00','23:00','00:00','01:00'][round(datum.value/60)]", "tickSize": -10, "labelPadding": 32, "labelFlush": false, "title": "Start Time (09-Mar-11 21:00:00)", "titleFontWeight": "normal", "titleFontSize": 21, "titleX": 226, "titleY": 64, "titleBaseline": "middle", "titleAlign": "center"}},
                 "y": {"field": "v", "type": "quantitative", "scale": {"domain": [4.93, 50], "nice": false, "zero": false}, "axis": {"orient": "left", "values": [10, 20, 30, 40, 50], "format": "d", "tickSize": -10, "labelPadding": 18, "labelFlush": 12, "title": "(dH/dt)ₚ (10⁴⁰Mx²h⁻¹)", "titleX": -55, "titleY": 197, "titleAngle": 270, "titleFontWeight": "bold", "titleBaseline": "middle", "titleAlign": "center"}}}},
   {"data": {"name": "e2p"}, "mark": {"type": "point", "filled": true, "color": "black", "stroke": "black", "strokeWidth": 1.3, "size": 150, "opacity": 1},
    "encoding": {"x": {"field": "t", "type": "quantitative", "scale": {"domain": [0, 240], "nice": false, "zero": false}, "axis": {"orient": "bottom", "tickCount": 24, "labels": false, "domain": false, "tickSize": -5, "title": null}},
                 "y": {"field": "v", "type": "quantitative", "scale": {"domain": [4.93, 50], "nice": false, "zero": false}, "axis": {"orient": "left", "tickCount": 45, "labels": false, "domain": false, "tickSize": -5, "title": null}},
                 "shape": {"datum": "(dH/dt)ₚ", "type": "nominal", "scale": {"domain": ["(dH/dt)ₚ", "(dH/dt)ₙ"], "range": ["M-1,0H1M0,-1V1", "circle"]}, "legend": {"orient": "none", "legendX": 24, "legendY": 43, "title": null, "symbolSize": 140, "symbolStrokeWidth": 1.5, "labelFontSize": 21, "labelColor": "black", "labelOffset": 5, "rowPadding": 9, "padding": 0}}}},
   {"data": {"name": "e2n"}, "mark": {"type": "line", "color": "#0000ff", "strokeWidth": 1.5},
    "encoding": {"x": {"field": "t", "type": "quantitative", "scale": {"domain": [0, 240], "nice": false, "zero": false}, "axis": null},
                 "y": {"field": "v", "type": "quantitative", "scale": {"domain": [-40, 0], "nice": false, "zero": false}, "axis": {"orient": "right", "values": [-40, -30, -20, -10, 0], "format": "d", "tickSize": -10, "labelPadding": 18, "labelFlush": 12, "labelColor": "#1010ff", "domainColor": "#5a5aff", "tickColor": "#5a5aff", "title": "(dH/dt)ₙ (10⁴⁰Mx²h⁻¹)", "titleColor": "#1010ff", "titleX": 50, "titleY": 195, "titleAngle": 270, "titleFontWeight": "bold", "titleBaseline": "middle", "titleAlign": "center"}}}},
   {"data": {"name": "e2n"}, "mark": {"type": "point", "filled": true, "shape": "circle", "color": "#0000ff", "size": 30, "opacity": 1},
    "encoding": {"x": {"field": "t", "type": "quantitative", "scale": {"domain": [0, 240], "nice": false, "zero": false}, "axis": null},
                 "y": {"field": "v", "type": "quantitative", "scale": {"domain": [-40, 0], "nice": false, "zero": false}, "axis": {"orient": "right", "tickCount": 40, "labels": false, "domain": false, "tickSize": -5, "tickColor": "#5a5aff", "title": null}}}},
   {"data": {"name": "efl"}, "mark": {"type": "rule", "color": "black", "strokeWidth": 1.5, "strokeDash": [3, 4]},
    "encoding": {"x": {"field": "t", "type": "quantitative", "scale": {"domain": [0, 240], "nice": false, "zero": false}, "axis": null}}},
   {"data": {"name": "efl"}, "mark": {"type": "text", "angle": 270, "align": "left", "baseline": "bottom", "fontSize": 15, "color": "black", "dx": 4},
    "encoding": {"x": {"field": "t", "type": "quantitative", "scale": {"domain": [0, 240], "nice": false, "zero": false}, "axis": null},
                 "y": {"datum": 4.93, "type": "quantitative", "scale": {"domain": [4.93, 50], "nice": false, "zero": false}, "axis": null},
                 "text": {"field": "label"}}}
  ]},
 {"width": 455, "height": 393,
  "title": {"text": "(f2)", "orient": "top", "anchor": "end", "frame": "group", "offset": -38, "dx": -26, "fontSize": 25, "fontWeight": "normal", "color": "black"},
  "resolve": {"scale": {"x": "independent", "y": "independent"}, "axis": {"x": "independent", "y": "independent"}},
  "layer": [
   {"data": {"name": "f2p"}, "mark": {"type": "line", "color": "black", "strokeWidth": 1.5},
    "encoding": {"x": {"field": "t", "type": "quantitative", "scale": {"domain": [0, 105], "nice": false, "zero": false}, "axis": {"orient": "bottom", "values": [15, 35, 55, 75, 95], "labelExpr": "['13:00','13:20','13:40','14:00','14:20'][round((datum.value-15)/20)]", "tickSize": -10, "labelPadding": 32, "labelFlush": false, "title": "Start Time (10-Mar-11 12:45:00)", "titleFontWeight": "normal", "titleFontSize": 21, "titleX": 227, "titleY": 64, "titleBaseline": "middle", "titleAlign": "center"}},
                 "y": {"field": "v", "type": "quantitative", "scale": {"domain": [9.05, 50.39], "nice": false, "zero": false}, "axis": {"orient": "left", "values": [10, 20, 30, 40, 50], "format": "d", "tickSize": -10, "labelPadding": 18, "labelFlush": 12, "title": "(dH/dt)ₚ (10⁴⁰Mx²h⁻¹)", "titleX": -56, "titleY": 197, "titleAngle": 270, "titleFontWeight": "bold", "titleBaseline": "middle", "titleAlign": "center"}}}},
   {"data": {"name": "f2p"}, "mark": {"type": "point", "filled": true, "color": "black", "stroke": "black", "strokeWidth": 1.3, "size": 150, "opacity": 1},
    "encoding": {"x": {"field": "t", "type": "quantitative", "scale": {"domain": [0, 105], "nice": false, "zero": false}, "axis": {"orient": "bottom", "tickCount": 21, "labels": false, "domain": false, "tickSize": -5, "title": null}},
                 "y": {"field": "v", "type": "quantitative", "scale": {"domain": [9.05, 50.39], "nice": false, "zero": false}, "axis": {"orient": "left", "tickCount": 20, "labels": false, "domain": false, "tickSize": -5, "title": null}},
                 "shape": {"datum": "(dH/dt)ₚ", "type": "nominal", "scale": {"domain": ["(dH/dt)ₚ", "(dH/dt)ₙ"], "range": ["M-1,0H1M0,-1V1", "circle"]}, "legend": {"orient": "none", "legendX": 25, "legendY": 43, "title": null, "symbolSize": 140, "symbolStrokeWidth": 1.5, "labelFontSize": 21, "labelColor": "black", "labelOffset": 5, "rowPadding": 9, "padding": 0}}}},
   {"data": {"name": "f2n"}, "mark": {"type": "line", "color": "#0000ff", "strokeWidth": 1.5},
    "encoding": {"x": {"field": "t", "type": "quantitative", "scale": {"domain": [0, 105], "nice": false, "zero": false}, "axis": null},
                 "y": {"field": "v", "type": "quantitative", "scale": {"domain": [-60, 0.58], "nice": false, "zero": false}, "axis": {"orient": "right", "values": [-60, -50, -40, -30, -20, -10, 0], "format": "d", "tickSize": -10, "labelPadding": 18, "labelFlush": 12, "labelColor": "#1010ff", "domainColor": "#5a5aff", "tickColor": "#5a5aff", "title": "(dH/dt)ₙ (10⁴⁰Mx²h⁻¹)", "titleColor": "#1010ff", "titleX": 52, "titleY": 195, "titleAngle": 270, "titleFontWeight": "bold", "titleBaseline": "middle", "titleAlign": "center"}}}},
   {"data": {"name": "f2n"}, "mark": {"type": "point", "filled": true, "shape": "circle", "color": "#0000ff", "size": 30, "opacity": 1},
    "encoding": {"x": {"field": "t", "type": "quantitative", "scale": {"domain": [0, 105], "nice": false, "zero": false}, "axis": null},
                 "y": {"field": "v", "type": "quantitative", "scale": {"domain": [-60, 0.58], "nice": false, "zero": false}, "axis": {"orient": "right", "tickCount": 30, "labels": false, "domain": false, "tickSize": -5, "tickColor": "#5a5aff", "title": null}}}},
   {"data": {"name": "ffl"}, "mark": {"type": "rule", "color": "black", "strokeWidth": 1.5, "strokeDash": [3, 4]},
    "encoding": {"x": {"field": "t", "type": "quantitative", "scale": {"domain": [0, 105], "nice": false, "zero": false}, "axis": null}}},
   {"data": {"name": "ffl"}, "mark": {"type": "text", "angle": 270, "align": "left", "baseline": "bottom", "fontSize": 15, "color": "black", "dx": 4},
    "encoding": {"x": {"field": "t", "type": "quantitative", "scale": {"domain": [0, 105], "nice": false, "zero": false}, "axis": null},
                 "y": {"datum": 9.05, "type": "quantitative", "scale": {"domain": [9.05, 50.39], "nice": false, "zero": false}, "axis": null},
                 "text": {"field": "label"}}}
  ]}
]
}
